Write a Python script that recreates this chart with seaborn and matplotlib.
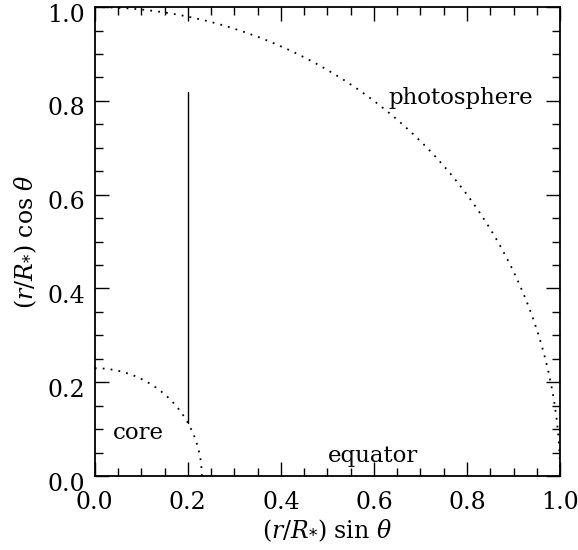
import numpy as np
import pandas as pd
import matplotlib
matplotlib.use("Agg")
import matplotlib.pyplot as plt
from matplotlib.ticker import MultipleLocator, FormatStrFormatter
from matplotlib.transforms import ScaledTranslation
import seaborn as sns

# ---- data ----
shell_names = ["photosphere", "core"]
shell_radii = [1.0, 0.23]
ray_x = [0.2, 0.2]
ray_y = [0.1136, 0.82]
label_texts = ["photosphere", "core", "equator"]
label_x = [0.63, 0.039, 0.501]
label_y = [0.793, 0.079, 0.030]

sns.set_style("ticks")
plt.rcParams["font.family"] = ["DejaVu Serif"]
plt.rcParams["mathtext.fontset"] = "dejavuserif"
plt.rcParams["text.color"] = "black"
plt.rcParams["axes.labelcolor"] = "black"

fig = plt.figure(figsize=(5.78, 5.5), dpi=100)
ax = fig.add_axes([0.164, 0.1345, 0.805, 0.8525])

theta = np.linspace(0, np.pi / 2, 400)
rows = []
for name, r in zip(shell_names, shell_radii):
    for t in theta:
        rows.append({"shell": name, "x": r * np.sin(t), "y": r * np.cos(t)})
df = pd.DataFrame(rows)
for name in shell_names:
    sub = df[df["shell"] == name]
    sns.lineplot(data=sub, x="x", y="y", sort=False, ax=ax, color="black",
                 linewidth=1.3, linestyle=(0, (1, 3.4)), estimator=None)

ray = pd.DataFrame({"x": ray_x, "y": ray_y})
sns.lineplot(data=ray, x="x", y="y", sort=False, ax=ax, color="black",
             linewidth=1.0, estimator=None)

for t, x, y in zip(label_texts, label_x, label_y):
    ax.text(x, y, t, fontsize=16.5, va="baseline", ha="left", color="black")

ax.set_xlim(0, 1)
ax.set_ylim(0, 1)
ax.xaxis.set_major_locator(MultipleLocator(0.2))
ax.xaxis.set_minor_locator(MultipleLocator(0.05))
ax.yaxis.set_major_locator(MultipleLocator(0.2))
ax.yaxis.set_minor_locator(MultipleLocator(0.05))
ax.xaxis.set_major_formatter(FormatStrFormatter("%.1f"))
ax.yaxis.set_major_formatter(FormatStrFormatter("%.1f"))
ax.tick_params(which="both", direction="in", top=True, right=True,
               colors="black", labelsize=17, width=1.0)
ax.tick_params(which="major", length=10)
ax.tick_params(which="minor", length=6)
ax.tick_params(axis="x", which="major", pad=11)
ax.tick_params(axis="y", which="major", pad=7)
for s in ax.spines.values():
    s.set_linewidth(1.3)
    s.set_color("black")

# IDL-style: y tick labels sit slightly below their ticks
shift = ScaledTranslation(0, -5.5 / 100, fig.dpi_scale_trans)
for tick in ax.yaxis.get_major_ticks():
    tick.label1.set_transform(tick.label1.get_transform() + shift)

ax.set_xlabel(r"$(r/R_{*})\ \mathrm{sin}\ \theta$", fontsize=17, labelpad=2)
ax.set_ylabel(r"$(r/R_{*})\ \mathrm{cos}\ \theta$", fontsize=17, labelpad=6)

fig.savefig("out.png", dpi=100)
